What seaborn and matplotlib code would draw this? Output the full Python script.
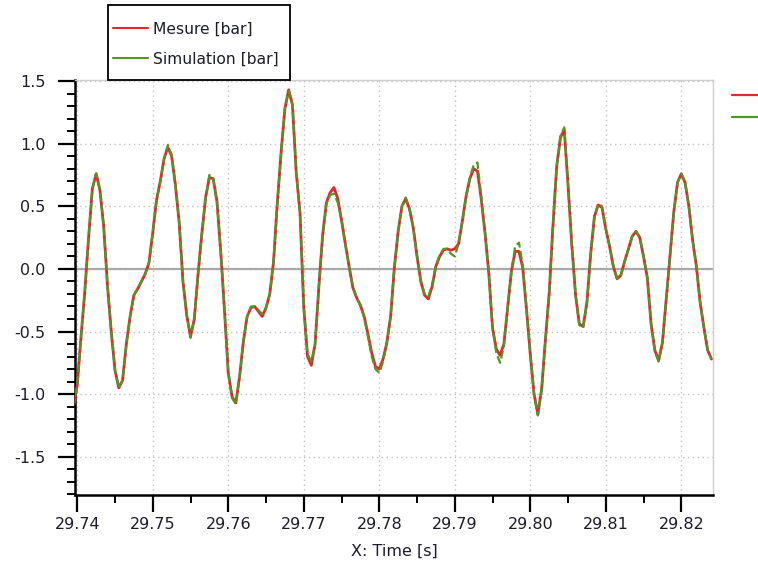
import numpy as np
import pandas as pd
import matplotlib
matplotlib.use("Agg")
import matplotlib.pyplot as plt
from matplotlib.lines import Line2D
from matplotlib.patches import Rectangle
from matplotlib.ticker import MultipleLocator, FormatStrFormatter
import seaborn as sns

t_start = 29.7395
dt = 0.0005

mesure = [
    -1.10, -0.93, -0.54, -0.18, 0.25, 0.64, 0.76, 0.63, 0.34, -0.13,
    -0.50, -0.81, -0.95, -0.89, -0.60, -0.38, -0.21, -0.16, -0.10, -0.04,
    0.05, 0.29, 0.55, 0.70, 0.88, 0.97, 0.90, 0.67, 0.37, -0.10,
    -0.37, -0.54, -0.40, -0.04, 0.28, 0.57, 0.73, 0.72, 0.54, 0.14,
    -0.33, -0.83, -1.02, -1.07, -0.86, -0.58, -0.38, -0.31, -0.30, -0.34,
    -0.38, -0.31, -0.20, 0.06, 0.53, 0.93, 1.28, 1.43, 1.31, 0.77,
    0.45, -0.31, -0.70, -0.77, -0.60, -0.14, 0.27, 0.53, 0.61, 0.65,
    0.56, 0.39, 0.20, 0.02, -0.15, -0.23, -0.29, -0.38, -0.52, -0.67,
    -0.78, -0.80, -0.72, -0.59, -0.38, 0.01, 0.30, 0.50, 0.56, 0.48,
    0.33, 0.10, -0.10, -0.21, -0.24, -0.14, 0.02, 0.10, 0.15, 0.16,
    0.15, 0.16, 0.20, 0.38, 0.58, 0.72, 0.80, 0.78, 0.56, 0.29,
    -0.03, -0.47, -0.64, -0.69, -0.60, -0.31, -0.02, 0.14, 0.14, 0.01,
    -0.32, -0.68, -1.00, -1.16, -0.96, -0.57, -0.20, 0.34, 0.82, 1.05,
    1.11, 0.67, 0.19, -0.21, -0.44, -0.46, -0.27, 0.12, 0.42, 0.51,
    0.49, 0.32, 0.18, 0.02, -0.08, -0.05, 0.06, 0.16, 0.26, 0.30,
    0.25, 0.10, -0.07, -0.44, -0.65, -0.73, -0.59, -0.25, 0.10, 0.45,
    0.69, 0.76, 0.69, 0.50, 0.23, 0.02, -0.27, -0.47, -0.65, -0.72,
]

simulation = [
    -1.10, -0.93, -0.54, -0.18, 0.25, 0.64, 0.76, 0.63, 0.34, -0.13,
    -0.50, -0.81, -0.95, -0.89, -0.60, -0.38, -0.21, -0.16, -0.10, -0.04,
    0.05, 0.29, 0.55, 0.70, 0.88, 0.99, 0.91, 0.67, 0.37, -0.10,
    -0.37, -0.55, -0.40, -0.04, 0.28, 0.57, 0.75, 0.72, 0.54, 0.14,
    -0.33, -0.83, -1.03, -1.08, -0.86, -0.58, -0.38, -0.30, -0.30, -0.33,
    -0.36, -0.31, -0.20, 0.06, 0.53, 0.93, 1.28, 1.42, 1.31, 0.77,
    0.45, -0.31, -0.68, -0.74, -0.60, -0.14, 0.27, 0.52, 0.59, 0.60,
    0.53, 0.39, 0.20, 0.02, -0.14, -0.23, -0.29, -0.39, -0.54, -0.70,
    -0.80, -0.83, -0.74, -0.59, -0.38, 0.01, 0.30, 0.50, 0.57, 0.48,
    0.33, 0.10, -0.09, -0.20, -0.22, -0.13, 0.03, 0.11, 0.16, 0.16,
    0.12, 0.10, 0.20, 0.38, 0.58, 0.73, 0.83, 0.85, 0.58, 0.29,
    -0.03, -0.47, -0.67, -0.75, -0.62, -0.31, -0.02, 0.18, 0.21, 0.03,
    -0.32, -0.68, -1.00, -1.17, -0.97, -0.57, -0.20, 0.34, 0.82, 1.06,
    1.13, 0.67, 0.19, -0.21, -0.45, -0.47, -0.27, 0.12, 0.42, 0.52,
    0.50, 0.32, 0.18, 0.02, -0.08, -0.05, 0.06, 0.16, 0.26, 0.30,
    0.25, 0.10, -0.07, -0.44, -0.66, -0.74, -0.59, -0.25, 0.10, 0.45,
    0.69, 0.76, 0.69, 0.50, 0.23, 0.02, -0.27, -0.47, -0.65, -0.72,
]

labels = ["Mesure [bar]", "Simulation [bar]"]
x_ticks = [29.74, 29.75, 29.76, 29.77, 29.78, 29.79, 29.80, 29.81, 29.82]
y_ticks = [-1.5, -1.0, -0.5, 0.0, 0.5, 1.0, 1.5]

RED = "#e8252b"
GREEN = "#4e9a1e"

time = [t_start + i * dt for i in range(len(mesure))]
df = pd.DataFrame({"time": time, "mesure": mesure, "simulation": simulation})

sns.set_style("white")
plt.rcParams["font.family"] = ["DejaVu Sans"]

fig = plt.figure(figsize=(7.58, 5.63), dpi=100)
ax = fig.add_axes([75 / 758, 1 - 495 / 563, 638 / 758, 415 / 563])

# zero line
ax.axhline(0, color="#a9a9a9", lw=1.6, zorder=1)

sns.lineplot(data=df, x="time", y="mesure", ax=ax, color=RED, lw=2.0,
             zorder=3, legend=False)
sns.lineplot(data=df, x="time", y="simulation", ax=ax, color=GREEN, lw=1.6,
             linestyle=(0, (3.6, 1.6)), zorder=4, legend=False)

ax.set_xlim(29.7397, 29.8242)
ax.set_ylim(-1.805, 1.508)
ax.set_xticks(x_ticks)
ax.set_yticks(y_ticks)
ax.xaxis.set_minor_locator(MultipleLocator(0.005))
ax.yaxis.set_minor_locator(MultipleLocator(0.1))
ax.xaxis.set_major_formatter(FormatStrFormatter("%.2f"))
ax.yaxis.set_major_formatter(FormatStrFormatter("%.1f"))

ax.grid(True, which="major", color="#c4c4c4", linestyle=(0, (1, 2.5)), lw=1.0)
ax.set_axisbelow(True)

txt_color = "#1c1c2a"
ax.tick_params(axis="both", which="major", direction="out", length=12,
               width=1.6, color="black", labelsize=11.5, labelcolor=txt_color)
ax.tick_params(axis="both", which="minor", direction="out", length=5.5,
               width=1.4, color="black")
ax.tick_params(axis="y", which="major", pad=9)
ax.tick_params(axis="x", which="major", pad=4)
ax.tick_params(bottom=True, left=True, which="both")

for s in ["left", "bottom"]:
    ax.spines[s].set_color("black")
    ax.spines[s].set_linewidth(1.8)
for s in ["top", "right"]:
    ax.spines[s].set_color("#cfcfcf")
    ax.spines[s].set_linewidth(1.0)

ax.set_xlabel("X: Time [s]", fontsize=11.5, color=txt_color, labelpad=8)
ax.set_ylabel("")

# legend box (frame drawn separately for exact size)
fig.add_artist(Rectangle((108 / 758, 1 - 80 / 563), 182 / 758, 75 / 563,
                         transform=fig.transFigure, facecolor="white",
                         edgecolor="black", lw=1.3, zorder=5))
handles = [Line2D([], [], color=RED, lw=1.5), Line2D([], [], color=GREEN, lw=1.5)]
leg = fig.legend(handles, labels, loc="center left",
                 bbox_to_anchor=(108 / 758, 1 - 44 / 563),
                 bbox_transform=fig.transFigure,
                 frameon=False, fontsize=11.2, handlelength=2.25,
                 handletextpad=0.33, labelspacing=0.95,
                 borderpad=0.3, borderaxespad=0)
leg.set_zorder(6)
for t in leg.get_texts():
    t.set_color(txt_color)

# cut-off second legend at the right edge
fig.add_artist(Line2D([732 / 758, 1.0], [1 - 95 / 563] * 2, color=RED, lw=1.6,
                      transform=fig.transFigure))
fig.add_artist(Line2D([732 / 758, 1.0], [1 - 117 / 563] * 2, color=GREEN, lw=1.6,
                      transform=fig.transFigure))

fig.savefig("out.png", dpi=100)
